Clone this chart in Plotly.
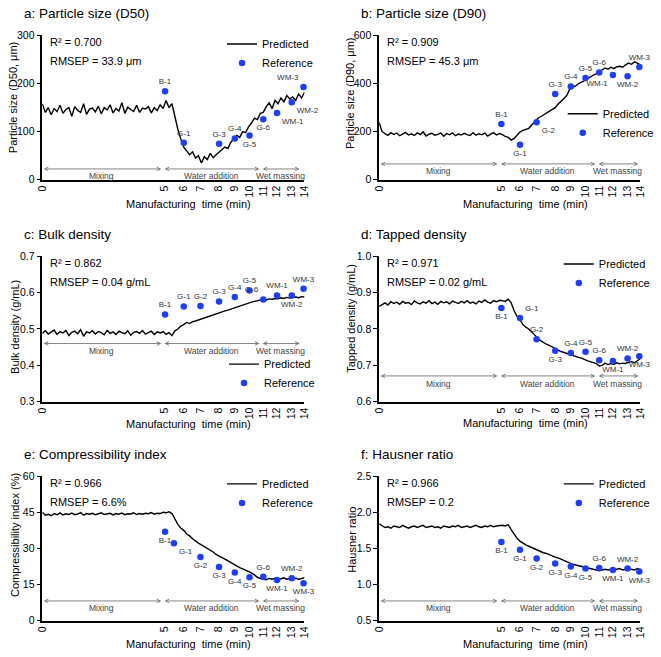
import plotly.graph_objects as go

# ---------------- data ----------------
# x axis: spectrum index, labelled with manufacturing time (min)
tick_idx = [0, 125, 144, 161, 180, 196, 211, 225, 239, 254, 267]
tick_min = ["0", "5", "6", "7", "8", "9", "10", "11", "12", "13", "14"]

pred_idx = list(range(0, 268, 3))

samples = ["B-1", "G-1", "G-2", "G-3", "G-4", "G-5", "G-6", "WM-1", "WM-2", "WM-3"]
sample_idx = [125, 144, 161, 180, 196, 211, 225, 239, 254, 266]
sample_idx_e = [125, 134, 161, 180, 196, 211, 225, 239, 254, 266]

phase_names = ["Mixing", "Water addition", "Wet massing"]
phase_start = [0, 123, 223]
phase_end = [121, 221, 262]

d50_mix = [158, 140, 150, 135, 148, 142, 155, 138, 146, 150, 132, 152, 144, 140, 158, 136, 147, 149, 141, 153,
           137, 150, 145, 156, 139, 148, 143, 160, 138, 151, 146, 142, 155, 140, 149, 147, 152, 139, 150, 144,
           156, 148]
d50_gran = [165, 150, 158, 130, 105, 85, 68, 60, 52, 58, 45, 50, 35, 48, 42, 55, 46, 52, 58, 62, 68, 65, 78, 85,
            92, 88, 100, 98, 110, 118, 128, 125, 138, 140, 152, 160, 148, 165, 158, 170, 162, 175, 168, 172, 165,
            178, 170, 182]
d50_ref = [184, 77, None, 75, 86, 92, 126, 139, 161, 193]

d90_mix = [238, 200, 192, 185, 196, 188, 194, 183, 190, 197, 186, 191, 184, 195, 188, 199, 182, 190, 193, 185,
           189, 194, 181, 192, 187, 195, 183, 190, 186, 193, 188, 184, 196, 185, 191, 187, 194, 182, 190, 196,
           186, 192]
d90_gran = [188, 180, 176, 165, 172, 185, 198, 205, 210, 214, 228, 240, 255, 262, 270, 278, 285, 292, 300, 315,
            325, 338, 352, 378, 385, 390, 400, 405, 412, 420, 428, 435, 440, 448, 458, 465, 460, 468, 462, 470,
            472, 468, 478, 485, 480, 490, 485, 478]
d90_ref = [232, 146, 239, 357, 388, 423, 446, 436, 430, 469]

bulk_mix = [0.488, 0.495, 0.486, 0.492, 0.497, 0.485, 0.493, 0.489, 0.496, 0.482, 0.491, 0.494, 0.487, 0.498,
            0.480, 0.492, 0.489, 0.495, 0.486, 0.493, 0.490, 0.484, 0.496, 0.488, 0.492, 0.485, 0.494, 0.490,
            0.487, 0.495, 0.483, 0.491, 0.493, 0.488, 0.496, 0.486, 0.490, 0.494, 0.485, 0.492, 0.489, 0.493]
bulk_gran = [0.485, 0.490, 0.482, 0.495, 0.500, 0.508, 0.512, 0.518, 0.515, 0.520, 0.522, 0.525, 0.527, 0.530,
             0.532, 0.535, 0.538, 0.542, 0.545, 0.547, 0.550, 0.552, 0.555, 0.558, 0.560, 0.562, 0.566, 0.568,
             0.571, 0.574, 0.576, 0.578, 0.580, 0.581, 0.580, 0.583, 0.582, 0.584, 0.583, 0.586, 0.584, 0.587,
             0.585, 0.586, 0.588, 0.586, 0.589, 0.588]
bulk_ref = [0.540, 0.562, 0.563, 0.576, 0.588, 0.606, 0.581, 0.592, 0.592, 0.611]

tap_mix = [0.862, 0.868, 0.872, 0.866, 0.875, 0.870, 0.874, 0.868, 0.876, 0.871, 0.873, 0.867, 0.877, 0.872,
           0.869, 0.875, 0.871, 0.878, 0.870, 0.874, 0.868, 0.876, 0.872, 0.875, 0.869, 0.877, 0.873, 0.870,
           0.876, 0.872, 0.878, 0.871, 0.874, 0.869, 0.877, 0.873, 0.880, 0.874, 0.871, 0.878, 0.875, 0.879]
tap_gran = [0.878, 0.876, 0.882, 0.872, 0.850, 0.835, 0.825, 0.812, 0.805, 0.800, 0.792, 0.782, 0.775, 0.768,
            0.762, 0.758, 0.755, 0.750, 0.746, 0.742, 0.738, 0.735, 0.732, 0.730, 0.728, 0.725, 0.722, 0.720,
            0.715, 0.712, 0.710, 0.708, 0.705, 0.698, 0.700, 0.706, 0.702, 0.705, 0.703, 0.707, 0.704, 0.706,
            0.705, 0.708, 0.710, 0.707, 0.712, 0.718]
tap_ref = [0.858, 0.830, 0.772, 0.740, 0.734, 0.737, 0.714, 0.712, 0.719, 0.725]

ci_mix = [45.0, 43.8, 44.2, 43.6, 44.5, 44.0, 44.8, 43.9, 44.4, 44.1, 44.7, 44.0, 44.3, 44.9, 43.8, 44.5, 44.2,
          44.6, 44.0, 44.4, 44.8, 44.1, 44.3, 44.6, 43.9, 44.5, 44.2, 44.7, 44.0, 44.4, 44.3, 44.8, 44.1, 44.5,
          44.2, 44.6, 44.4, 44.9, 44.2, 44.6, 44.5, 45.0]
ci_gran = [44.8, 45.2, 44.5, 42.0, 40.0, 38.5, 37.5, 36.0, 35.2, 34.0, 33.0, 32.2, 31.5, 30.8, 30.0, 29.2, 28.5,
           27.5, 27.0, 26.2, 25.5, 24.8, 24.0, 23.2, 22.8, 22.0, 21.5, 21.0, 20.2, 19.8, 19.0, 18.0, 17.5, 17.2,
           17.0, 17.5, 17.2, 17.6, 17.1, 17.4, 17.8, 17.2, 17.5, 17.3, 17.6, 17.2, 17.5, 17.8]
ci_ref = [36.9, 32.1, 26.4, 22.3, 20.0, 18.0, 18.2, 16.9, 17.6, 15.5]

hr_mix = [1.84, 1.81, 1.79, 1.80, 1.78, 1.81, 1.80, 1.79, 1.82, 1.80, 1.78, 1.80, 1.81, 1.79, 1.80, 1.82, 1.79,
          1.80, 1.81, 1.79, 1.80, 1.78, 1.81, 1.80, 1.79, 1.81, 1.80, 1.82, 1.79, 1.80, 1.81, 1.79, 1.80, 1.82,
          1.80, 1.79, 1.81, 1.80, 1.82, 1.80, 1.81, 1.82]
hr_gran = [1.82, 1.81, 1.83, 1.76, 1.70, 1.64, 1.60, 1.57, 1.55, 1.53, 1.51, 1.49, 1.47, 1.46, 1.44, 1.43, 1.41,
           1.39, 1.38, 1.37, 1.35, 1.34, 1.32, 1.29, 1.28, 1.27, 1.26, 1.25, 1.24, 1.23, 1.22, 1.21, 1.20, 1.19,
           1.20, 1.21, 1.20, 1.21, 1.20, 1.21, 1.22, 1.20, 1.21, 1.22, 1.21, 1.20, 1.22, 1.21]
hr_ref = [1.59, 1.48, 1.36, 1.29, 1.25, 1.22, 1.23, 1.20, 1.22, 1.18]

panel_titles = ["a: Particle size (D50)", "b: Particle size (D90)", "c: Bulk density",
                "d: Tapped density", "e: Compressibility index", "f: Hausner ratio"]
y_titles = ["Particle size (D50, μm)", "Particle size (D90, μm)", "Bulk density (g/mL)",
            "Tapped density (g/mL)", "Compressibility index (%)", "Hausner ratio"]
r2_text = ["R² = 0.700", "R² = 0.909", "R² = 0.862", "R² = 0.971", "R² = 0.966", "R² = 0.966"]
rmsep_text = ["RMSEP = 33.9 μm", "RMSEP = 45.3 μm", "RMSEP = 0.04 g/mL", "RMSEP = 0.02 g/mL",
              "RMSEP = 6.6%", "RMSEP = 0.2"]
y_ticks = [[0, 100, 200, 300], [0, 200, 400, 600], [0.3, 0.4, 0.5, 0.6, 0.7], [0.6, 0.7, 0.8, 0.9, 1.0],
           [0, 15, 30, 45, 60], [0.5, 1.0, 1.5, 2.0, 2.5]]

preds = [d50_mix + d50_gran, d90_mix + d90_gran, bulk_mix + bulk_gran, tap_mix + tap_gran,
         ci_mix + ci_gran, hr_mix + hr_gran]
refs = [d50_ref, d90_ref, bulk_ref, tap_ref, ci_ref, hr_ref]
ref_x = [sample_idx, sample_idx, sample_idx, sample_idx, sample_idx_e, sample_idx]

# ---------------- layout / style ----------------
W, H = 661, 657
col_x = [(36, 303), (379, 645)]
row_y = [(30, 177), (255, 403), (479, 626)]

BC, TC, TL, TR, BR, BL = "bottom center", "top center", "top left", "top right", "bottom right", "bottom left"
text_pos = [
    [TC, TC, TC, TC, TC, BC, BC, BR, BR, TL],
    [TC, BC, BR, TC, TC, TC, TC, BL, BC, TC],
    [TC, TC, TC, TC, TC, TC, TL, TC, BC, TC],
    [BC, TR, TC, BC, TC, TC, TC, BC, TC, BC],
    [BC, BR, BC, BC, BC, BC, TC, BC, TC, BC],
    [BC, BC, BC, BC, BC, BC, TC, BC, TC, BC],
]
# legend: (left px, top px)
legend_pos = [(219, 24), (566, 95), (221, 350), (562, 248), (219, 472), (562, 472)]
# phase arrow & label height as fraction of plot height
arrow_frac = [(0.075, 0.027), (0.11, 0.06), (0.40, 0.35), (0.177, 0.12), (0.136, 0.088), (0.136, 0.088)]
ytitle_pos = [(6, 93), (350, 89), (8, 327), (351, 318), (8, 539), (351, 544)]
xtitle_y = [202, 202, 426, 425, 650, 650]

FONT = "Liberation Sans, Arial, sans-serif"
BLUE = "#1f3dff"

fig = go.Figure()
annotations = []
layout_axes = {}


def px_x(p):
    return p / W


def px_y(p):
    return 1 - p / H


for i in range(6):
    r, c = divmod(i, 2)
    n = i + 1
    xa = "x" if n == 1 else f"x{n}"
    ya = "y" if n == 1 else f"y{n}"
    leg = "legend" if n == 1 else f"legend{n}"
    x0, x1 = col_x[c]
    yt, yb = row_y[r]
    yr = [y_ticks[i][0], y_ticks[i][-1]]
    span = yr[1] - yr[0]

    fig.add_trace(go.Scatter(
        x=pred_idx, y=preds[i], mode="lines", name="Predicted",
        line=dict(color="black", width=1.4), xaxis=xa, yaxis=ya, legend=leg))

    xs = [xv for xv, yv in zip(ref_x[i], refs[i]) if yv is not None]
    ys = [yv for yv in refs[i] if yv is not None]
    ts = [s for s, yv in zip(samples, refs[i]) if yv is not None]
    tp = [p for p, yv in zip(text_pos[i], refs[i]) if yv is not None]
    fig.add_trace(go.Scatter(
        x=xs, y=ys, mode="markers+text", name="Reference", text=ts, textposition=tp,
        textfont=dict(size=8, color="#333333", family=FONT),
        marker=dict(color=BLUE, size=6.5), cliponaxis=False,
        xaxis=xa, yaxis=ya, legend=leg))

    fmt = ".1f" if isinstance(y_ticks[i][1], float) else "d"
    layout_axes["xaxis" if n == 1 else f"xaxis{n}"] = dict(
        domain=[px_x(x0), px_x(x1)], anchor=ya, range=[0, 267],
        tickmode="array", tickvals=tick_idx, ticktext=tick_min, tickangle=-90,
        ticks="", showgrid=False, zeroline=False, showline=True, linecolor="black", linewidth=1.5,
        tickfont=dict(size=10.5, color="black", family=FONT))
    layout_axes["yaxis" if n == 1 else f"yaxis{n}"] = dict(
        domain=[px_y(yb), px_y(yt)], anchor=xa, range=yr,
        tickmode="array", tickvals=y_ticks[i], tickformat=fmt,
        ticks="outside", ticklen=4, tickwidth=1, tickcolor="black",
        showgrid=False, zeroline=False, showline=True, linecolor="black", linewidth=1.5,
        tickfont=dict(size=10.5, color="black", family=FONT))

    lx, ly = legend_pos[i]
    layout_axes[leg] = dict(
        x=px_x(lx), y=px_y(ly), xanchor="left", yanchor="top", bgcolor="rgba(0,0,0,0)",
        font=dict(size=11, color="black", family=FONT), itemwidth=30, tracegroupgap=0)

    # panel title
    annotations.append(dict(text=panel_titles[i], xref="paper", yref="paper",
                            x=px_x(x0 - 21), y=px_y(yt - 22), xanchor="left", yanchor="middle",
                            showarrow=False, font=dict(size=13.5, color="black", family=FONT)))
    # statistics
    annotations.append(dict(text=r2_text[i], xref="paper", yref="paper",
                            x=px_x(x0 + 6), y=px_y(yt + 7), xanchor="left", yanchor="middle",
                            showarrow=False, font=dict(size=11, color="black", family=FONT)))
    annotations.append(dict(text=rmsep_text[i], xref="paper", yref="paper",
                            x=px_x(x0 + 6), y=px_y(yt + 26), xanchor="left", yanchor="middle",
                            showarrow=False, font=dict(size=11, color="black", family=FONT)))
    # axis titles
    tx, ty = ytitle_pos[i]
    annotations.append(dict(text=y_titles[i], xref="paper", yref="paper", textangle=-90,
                            x=px_x(tx), y=px_y(ty), xanchor="center", yanchor="middle",
                            showarrow=False, font=dict(size=11, color="black", family=FONT)))
    annotations.append(dict(text="Manufacturing&nbsp; time (min)", xref="paper", yref="paper",
                            x=px_x(x0 + 149), y=px_y(xtitle_y[i]), xanchor="center", yanchor="middle",
                            showarrow=False, font=dict(size=11, color="black", family=FONT)))
    # manufacturing phases
    fa, ft = arrow_frac[i]
    ya_val = yr[0] + fa * span
    yt_val = yr[0] + ft * span
    for k in range(3):
        ps, pe = phase_start[k], phase_end[k]
        if c == 1 and k == 2:
            pe = 265
        annotations.append(dict(text="", xref=xa, yref=ya, axref=xa, ayref=ya,
                                x=pe, y=ya_val, ax=ps, ay=ya_val, showarrow=True,
                                arrowhead=5, startarrowhead=5, arrowside="end+start",
                                arrowsize=0.9, startarrowsize=0.9, arrowwidth=0.8, arrowcolor="#666666",
                                standoff=0, startstandoff=0))
        annotations.append(dict(text=phase_names[k], xref=xa, yref=ya,
                                x=(ps + pe) / 2, y=yt_val, xanchor="center", yanchor="middle",
                                showarrow=False, font=dict(size=8.5, color="#444444", family=FONT)))

fig.update_layout(
    width=W, height=H, margin=dict(l=0, r=0, t=0, b=0),
    paper_bgcolor="white", plot_bgcolor="white",
    font=dict(family=FONT, color="black"),
    annotations=annotations, **layout_axes)

fig.write_html("out.html")
